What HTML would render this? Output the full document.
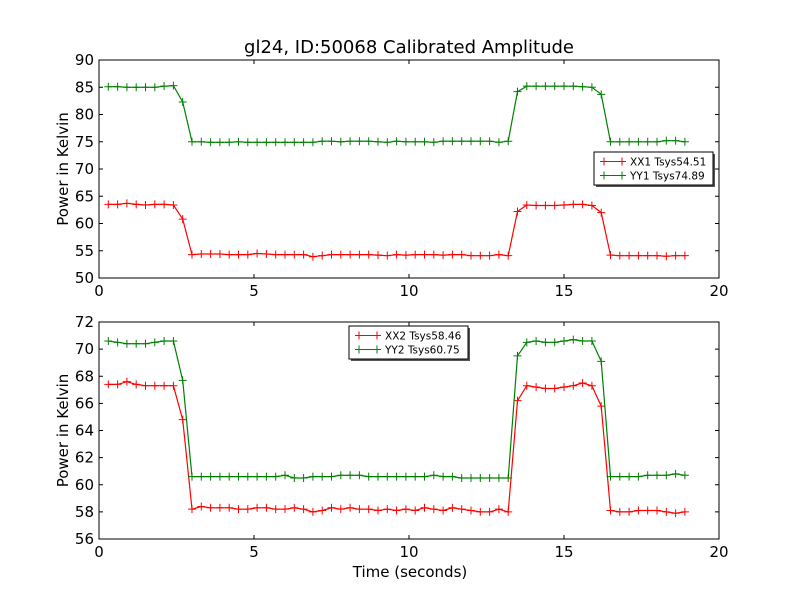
<!DOCTYPE html>
<html><head><meta charset="utf-8"><style>
body{margin:0;background:#fff}
svg{display:block;font-family:"DejaVu Sans","Liberation Sans",sans-serif}
</style></head><body>
<svg id="chart" width="800" height="600" xmlns="http://www.w3.org/2000/svg">
<rect width="800" height="600" fill="#fff"/>
<text x="409" y="53" font-size="18" text-anchor="middle">gl24, ID:50068 Calibrated Amplitude</text>
<text x="410" y="577" font-size="15" text-anchor="middle">Time (seconds)</text>
<g id="p1"></g><g id="p2"></g>
</svg>
<script>
const xx1 = [63.5,63.5,63.7,63.5,63.4,63.5,63.5,63.4,60.8,
54.3,54.4,54.4,54.4,54.3,54.3,54.3,54.5,54.4,54.3,54.3,54.3,54.3,53.9,54.1,54.3,54.3,54.3,54.3,54.3,54.2,54.1,54.3,54.2,54.3,54.3,54.3,54.2,54.3,54.3,54.1,54.1,54.1,54.3,54.1,
62.2,63.4,63.3,63.3,63.3,63.4,63.5,63.5,63.3,62.0,
54.2,54.1,54.1,54.1,54.1,54.1,54.0,54.1,54.1];
const yy1 = [85.1,85.1,85.0,85.0,85.0,85.0,85.2,85.3,82.3,
75.0,75.0,74.9,74.9,74.9,75.0,74.9,74.9,74.9,74.9,74.9,74.9,74.9,74.9,75.1,75.1,75.0,75.1,75.1,75.1,75.0,74.9,75.1,75.0,75.0,75.0,74.9,75.1,75.1,75.1,75.1,75.1,75.1,74.9,75.1,
84.2,85.2,85.2,85.2,85.2,85.2,85.2,85.1,85.0,83.7,
75.0,75.0,75.0,75.0,75.0,75.0,75.2,75.2,75.0];
const xx2 = [67.4,67.4,67.6,67.4,67.3,67.3,67.3,67.3,64.8,
58.2,58.4,58.3,58.3,58.3,58.2,58.2,58.3,58.3,58.2,58.2,58.3,58.2,58.0,58.1,58.3,58.2,58.3,58.2,58.2,58.1,58.2,58.1,58.2,58.1,58.3,58.2,58.1,58.3,58.2,58.1,58.0,58.0,58.2,58.0,
66.2,67.3,67.2,67.1,67.1,67.2,67.3,67.5,67.3,65.8,
58.1,58.0,58.0,58.1,58.1,58.1,58.0,57.9,58.0];
const yy2 = [70.6,70.5,70.4,70.4,70.4,70.5,70.6,70.6,67.7,
60.6,60.6,60.6,60.6,60.6,60.6,60.6,60.6,60.6,60.6,60.7,60.5,60.5,60.6,60.6,60.6,60.7,60.7,60.7,60.6,60.6,60.6,60.6,60.6,60.6,60.6,60.7,60.6,60.6,60.5,60.5,60.5,60.5,60.5,60.5,
69.5,70.5,70.6,70.5,70.5,70.6,70.7,70.6,70.6,69.1,
60.6,60.6,60.6,60.6,60.7,60.7,60.7,60.8,60.7];
const t0 = 0.3, dt = 0.3;
const xTicks = [0,5,10,15,20];
const yTicks1 = [50,55,60,65,70,75,80,85,90];
const yTicks2 = [56,58,60,62,64,66,68,70,72];
const legend1 = ["XX1 Tsys54.51","YY1 Tsys74.89"];
const legend2 = ["XX2 Tsys58.46","YY2 Tsys60.75"];

const NS="http://www.w3.org/2000/svg";
function mk(tag,attrs,parent){const e=document.createElementNS(NS,tag);for(const k in attrs)e.setAttribute(k,attrs[k]);parent.appendChild(e);return e;}

function panel(g, top, bottom, yTicks, series, legend, lx, ly, idx){
  const L=99,R=719,ymin=yTicks[0],ymax=yTicks[yTicks.length-1];
  const xs=v=>L+(v-0)/(20-0)*(R-L);
  const ys=v=>bottom-(v-ymin)/(ymax-ymin)*(bottom-top);
  const grp=document.getElementById(g);
  const pfx='panel'+idx;
  for(let s=0;s<series.length;s++){
    const data=series[s].data,col=series[s].color;
    let d='';
    data.forEach((v,i)=>{d+=(i?'L':'M')+xs(t0+i*dt).toFixed(1)+','+ys(v).toFixed(1);});
    const p=mk('path',{d:d,fill:'none',stroke:col,'stroke-width':1.2},grp);
    
    
    data.forEach((v,i)=>{
      const cx=xs(t0+i*dt),cy=ys(v);
      const m=mk('path',{d:`M${cx-4},${cy}H${cx+4}M${cx},${cy-4}V${cy+4}`,stroke:col,'stroke-width':1},grp);
      
      
    });
  }
  const fr=mk('rect',{x:L,y:top,width:R-L,height:bottom-top,fill:'none',stroke:'#000','stroke-width':1},grp);
  
  
  xTicks.forEach(v=>{
    const x=xs(v);
    const tk=mk('path',{d:`M${x},${bottom}v-4M${x},${top}v4`,stroke:'#000'},grp);
    
    
    const t=mk('text',{x:x,y:bottom+18,'font-size':15,'text-anchor':'middle'},grp);
    t.textContent=v;
    
    
  });
  yTicks.forEach(v=>{
    const y=ys(v);
    const tk=mk('path',{d:`M${L},${y}h4M${R},${y}h-4`,stroke:'#000'},grp);
    
    
    const t=mk('text',{x:L-5,y:y+5,'font-size':15,'text-anchor':'end'},grp);
    t.textContent=v;
    
    
  });
  const yl=mk('text',{x:0,y:0,'font-size':15,'text-anchor':'middle',transform:`translate(68,${(top+bottom)/2}) rotate(-90)`},grp);
  yl.textContent='Power in Kelvin';
  
  
  const lg=mk('g',{},grp);
  
  
  mk('rect',{x:lx+2,y:ly+2,width:119,height:33,fill:'#555'},lg);
  mk('rect',{x:lx,y:ly,width:119,height:33,fill:'#fff',stroke:'#000','stroke-width':1},lg);
  legend.forEach((lab,i)=>{
    const col=series[i].color, y=ly+9.5+i*14;
    const ln=mk('path',{d:`M${lx+6},${y}h26M${lx+10},${y-4}v8M${lx+28},${y-4}v8`,stroke:col,'stroke-width':1},lg);
    
    
    const t=mk('text',{x:lx+36,y:y+4,'font-size':10.5},lg);
    t.textContent=lab;
    
    
  });
}
panel('p1',60,278,yTicks1,[{data:xx1,color:'#ff0000'},{data:yy1,color:'#008000'}],legend1,594,152,1);
panel('p2',322,539,yTicks2,[{data:xx2,color:'#ff0000'},{data:yy2,color:'#008000'}],legend2,349,326,2);
</script>
</body></html>
